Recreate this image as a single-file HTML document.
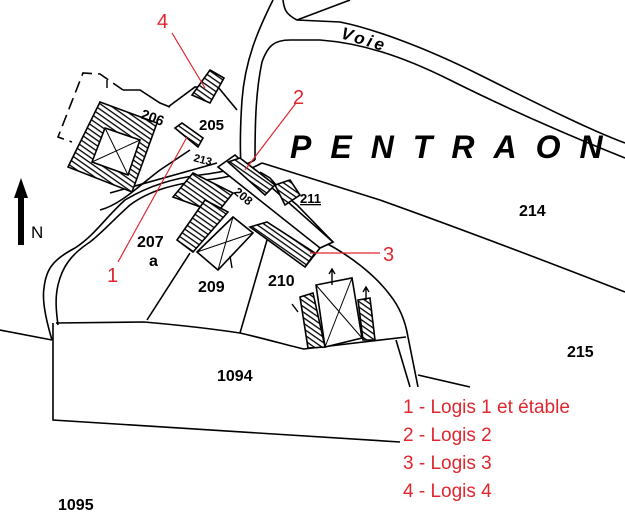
<!DOCTYPE html>
<html><head><meta charset="utf-8"><style>
html,body{margin:0;padding:0;background:#fff;}
svg{display:block;}
.k{font-family:"Liberation Sans",sans-serif;font-weight:bold;fill:#000;}
.r{font-family:"Liberation Sans",sans-serif;fill:#e0262e;}
</style></head><body>
<svg width="625" height="512" viewBox="0 0 625 512" xmlns="http://www.w3.org/2000/svg">
<defs>
<pattern id="h" width="4.5" height="4.5" patternUnits="userSpaceOnUse" patternTransform="rotate(35)">
<rect width="4.5" height="4.5" fill="#fff"/><rect width="4.5" height="1.3" fill="#000"/>
</pattern>
</defs>
<g fill="none" stroke="#000" stroke-width="1.6">
<path d="M273,0 C258,30 245,60 242,100 C240,130 240,150 241,165"/>
<path d="M283,0 C284,8 285,14 297,20 L340,22 C370,28 420,45 480,75 C540,105 590,130 625,143"/>
<path d="M297,20 L350,0"/>
<path d="M255,160 C255,120 256,90 262,62 C268,45 275,40 290,40 L320,40 C360,43 400,55 450,80 C520,115 580,140 625,158"/>
<path d="M262,163 L380,200 C450,225 530,255 625,292"/>
<path d="M320,240 C350,255 375,275 390,295 C402,310 406,325 408,337 L418,387"/>
<path d="M396,340 L410,387"/>
<path d="M418,375 L470,387"/>
<path d="M608,430 L625,437"/>
<path d="M0,330 L52,340"/>
<path d="M56,323 L144,322 C190,326 220,330 240,333 C270,340 290,346 304,349 L406,337"/>
<path d="M53,323 L53,420 L400,442"/>
<path d="M52,340 C46,320 42,300 44,288 C46,270 52,260 75,248 C95,235 105,218 125,200 C150,185 175,178 200,175 C225,172 240,168 255,160"/>
<path d="M58,325 C56,310 55,298 58,285 C62,268 70,255 90,242 C105,230 115,218 130,205 C150,190 175,184 205,180 C230,178 245,172 262,163"/>
<path d="M147,320 L190,253"/>
<path d="M240,333 L267,240"/>
<path d="M110,193 L217,163"/>
<path d="M168,107 L195,87 L205,88"/>
<path d="M218,87 L237,110"/>
<path d="M100,210 C120,205 140,185 160,170 L175,160 L190,150"/>
<path d="M320,248 L333,242 L297,205 L285,195 L270,178 L260,172"/>
<path d="M305,267 L320,248"/>
<path d="M123,90 L100,74 L83,73 L58,137 L72,142" stroke-dasharray="12,6"/>
<path d="M123,90 L140,90 L160,103 L170,107"/>
</g>
<g stroke="#000" stroke-width="1.6">
<polygon points="100,102 157,123 132,192 68,167" fill="url(#h)"/>
<polygon points="105,128 140,140 128,175 92,162" fill="#fff"/>
<path d="M105,128 L128,175 M140,140 L92,162" fill="none" stroke-width="1"/>
<polygon points="210,70 224,78 210,103 192,95" fill="url(#h)"/>
<polygon points="175,128 182,123 203,138 198,147" fill="url(#h)"/>
<polygon points="218,167 235,155 333,242 320,248" fill="#fff"/>
<polygon points="228,162 240,158 275,185 265,195" fill="url(#h)"/>
<polygon points="275,185 290,180 300,195 285,205" fill="url(#h)"/>
<polygon points="250,227 267,222 315,253 305,267" fill="url(#h)"/>
<polygon points="173,197 193,173 233,193 217,213" fill="url(#h)"/>
<polygon points="177,240 205,200 228,212 193,252" fill="url(#h)"/>
<polygon points="197,252 218,270 253,233 233,217" fill="#fff"/>
<path d="M197,252 L253,233 M218,270 L233,217" fill="none" stroke-width="1"/>
<polygon points="316,285 352,278 362,338 325,347" fill="#fff"/>
<path d="M316,285 L362,338 M352,278 L325,347" fill="none" stroke-width="1"/>
<polygon points="300,297 313,293 325,347 308,348" fill="url(#h)"/>
<polygon points="358,300 370,298 375,340 363,340" fill="url(#h)"/>
</g>
<g stroke="#000" stroke-width="1.4" fill="none">
<path d="M332,285 L332,270 M329,274 L332,269 L335,274"/>
<path d="M366,300 L366,288 M363,292 L366,287 L369,292"/>
<path d="M298,312 L292,304"/>
<path d="M107,88 L107,80"/>
<path d="M232,268 L230,256"/>
</g>
<rect x="18" y="195" width="6" height="50" fill="#000"/>
<polygon points="14,198 21,178 28,198" fill="#000"/>
<text x="31" y="238" font-family="Liberation Sans,sans-serif" font-size="17" fill="#000">N</text>
<text x="290" y="158" class="k" font-size="32" font-style="italic" letter-spacing="19">PENTRAON</text>
<text x="340" y="38" class="k" font-size="17" font-style="italic" letter-spacing="3" transform="rotate(17 340 38)">Voie</text>
<text x="519" y="216" class="k" font-size="16">214</text>
<text x="567" y="357" class="k" font-size="16">215</text>
<text x="217" y="381" class="k" font-size="16">1094</text>
<text x="58" y="510" class="k" font-size="16">1095</text>
<text x="137" y="247" class="k" font-size="16">207</text>
<text x="149" y="266" class="k" font-size="16">a</text>
<text x="198" y="292" class="k" font-size="16">209</text>
<text x="268" y="286" class="k" font-size="16">210</text>
<text x="199" y="130" class="k" font-size="15">205</text>
<text x="140" y="118" class="k" font-size="14" transform="rotate(20 140 118)">206</text>
<text x="193" y="161" class="k" font-size="11" transform="rotate(15 193 161)">213</text>
<text x="233" y="193" class="k" font-size="12" transform="rotate(40 233 193)">208</text>
<text x="300" y="203" class="k" font-size="13" text-decoration="underline">211</text>
<g stroke="#e0262e" stroke-width="1.2">
<path d="M172,33 L205,88"/>
<path d="M296,103 L245,170"/>
<path d="M118,262 L187,137"/>
<path d="M380,253 L310,253"/>
</g>
<text x="157" y="28" class="r" font-size="20">4</text>
<text x="293" y="104" class="r" font-size="20">2</text>
<text x="107" y="282" class="r" font-size="20">1</text>
<text x="383" y="261" class="r" font-size="20">3</text>
<rect x="400" y="390" width="225" height="112" fill="#fff"/>
<text x="403" y="413" class="r" font-size="19">1 - Logis 1 et étable</text>
<text x="403" y="441" class="r" font-size="19">2 - Logis 2</text>
<text x="403" y="469" class="r" font-size="19">3 - Logis 3</text>
<text x="403" y="497" class="r" font-size="19">4 - Logis 4</text>
</svg>
</body></html>
